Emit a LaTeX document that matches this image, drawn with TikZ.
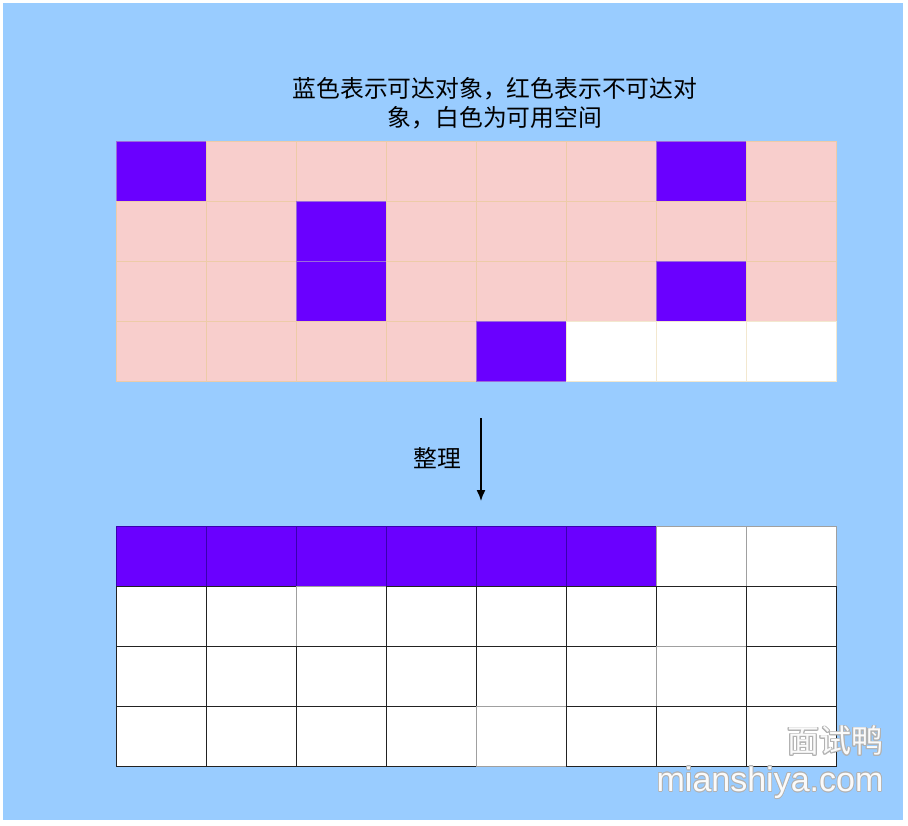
\documentclass[tikz,border=0pt]{standalone}
\usepackage{fontspec}
\usepackage{contour}
\setmainfont{Liberation Sans}
\newfontfamily\cjk{Noto Sans CJK SC}
\usetikzlibrary{positioning, arrows.meta}
\contourlength{0.7pt}

\definecolor{bgblue}{HTML}{99CCFF}
\definecolor{fillb}{HTML}{6A00FF}
\definecolor{fillr}{HTML}{F8CECC}
\definecolor{fillw}{HTML}{FFFFFF}
\definecolor{lineb}{HTML}{9A6ADB}
\definecolor{liner}{HTML}{EDCBA8}
\definecolor{linew}{HTML}{F3E8CF}
\definecolor{downb}{HTML}{3A00B0}
\definecolor{downw}{HTML}{222222}
\definecolor{downg}{HTML}{A0A0A0}
\colorlet{fillg}{white}

\begin{document}
\begin{tikzpicture}[x=1pt, y=-1pt, line width=1.2pt,
    cell/.style={minimum width=90pt, minimum height=60pt, inner sep=0pt, anchor=north west},
    caption/.style={font=\cjk\fontsize{23.8}{29}\selectfont, text=black, align=center},
    wmark/.style={font=\fontsize{34}{36}\selectfont, inner sep=0pt, text=white!96!gray, anchor=east}]
    \useasboundingbox (0,0) rectangle (908,825);
    \fill[bgblue] (3,3) rectangle (903,820);

    \node[caption] (title) at (495,103) {蓝色表示可达对象，红色表示不可达对\\象，白色为可用空间};

    % before
    \foreach \r/\line in {0/{b,r,r,r,r,r,b,r}, 1/{r,r,b,r,r,r,r,r},
                          2/{r,r,b,r,r,r,b,r}, 3/{r,r,r,r,b,w,w,w}}
        \foreach \k [count=\c from 0] in \line
            \node[cell, fill=fill\k, draw=line\k] (up-\r-\c) at (116+90*\c,141+60*\r) {};

    % after
    \foreach \r/\line in {0/{b,b,b,b,b,b,g,g}, 1/{w,w,g,w,w,w,w,w},
                          2/{w,w,w,w,w,w,g,w}, 3/{w,w,w,w,g,w,w,w}}
        \foreach \k [count=\c from 0] in \line
            \node[cell, fill=fill\k, draw=down\k, line width=1.4pt] (dn-\r-\c) at (116+90*\c,526+60*\r) {};

    \coordinate (from) at (481,418);
    \coordinate (to) at (481,501);
    \draw[-{Latex[length=11pt, width=9pt]}, black, line width=1.4pt] (from) -- (to);
    \node[caption] (tidy) at (437,458) {整理};

    % watermark
    \node[wmark, font=\cjk\fontsize{32}{34}\selectfont] (wmcn) at (884,741) {\contour{gray!60}{面试鸭}};
    \node[wmark] (wmurl) at (884,783) {\contour{gray!60}{mianshiya.com}};
\end{tikzpicture}
\end{document}
